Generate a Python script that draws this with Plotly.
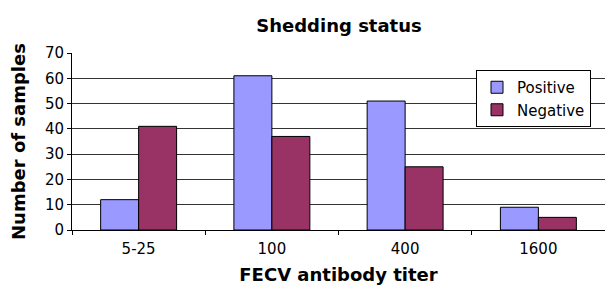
import plotly.graph_objects as go

categories = ["5-25", "100", "400", "1600"]
positive = [12, 61, 51, 9]
negative = [41, 37, 25, 5]

fig = go.Figure()
fig.add_trace(go.Bar(x=categories, y=positive, name="Positive",
                     marker=dict(color="#9999FF", line=dict(color="black", width=1))))
fig.add_trace(go.Bar(x=categories, y=negative, name="Negative",
                     marker=dict(color="#993366", line=dict(color="black", width=1))))

font = "DejaVu Sans, sans-serif"
bold = "DejaVu Sans, sans-serif"
fig.update_layout(
    width=605, height=285,
    margin=dict(l=72, r=0, t=53, b=55, autoexpand=False),
    paper_bgcolor="white", plot_bgcolor="white",
    barmode="group", bargap=0.43, bargroupgap=0,
    font=dict(family=font, size=15, color="black"),
    title=dict(text="<b>Shedding status</b>", x=339 / 605, xanchor="center",
               y=1 - 26 / 285, yanchor="middle", font=dict(size=18, family=bold)),
    legend=dict(x=(476 - 72) / 533, y=(230 - 70) / 177, xanchor="left", yanchor="top",
                bgcolor="white", bordercolor="black", borderwidth=1,
                font=dict(size=15), tracegroupgap=0, itemwidth=30),
    showlegend=True,
)
fig.update_xaxes(
    type="category", tickson="boundaries", ticks="outside", ticklen=4,
    tickcolor="black", showline=True, linecolor="black", linewidth=1,
    showgrid=False, automargin=False, ticklabelstandoff=5,
    tickfont=dict(size=15),
    title=dict(text="<b>FECV antibody titer</b>", font=dict(size=18, family=bold), standoff=13),
)
fig.update_yaxes(
    range=[0, 70], dtick=10, ticks="outside", ticklen=4, tickcolor="black",
    showline=True, linecolor="black", linewidth=1, automargin=False,
    showgrid=True, gridcolor="#333333", gridwidth=1,
    tickfont=dict(size=15),
    title=dict(text="<b>Number of samples</b>",
               font=dict(size=18, family=bold), standoff=14),
)

fig.write_html("out.html", config={"displayModeBar": False},
               post_script="document.body.style.margin='0';document.body.style.overflow='hidden';")
